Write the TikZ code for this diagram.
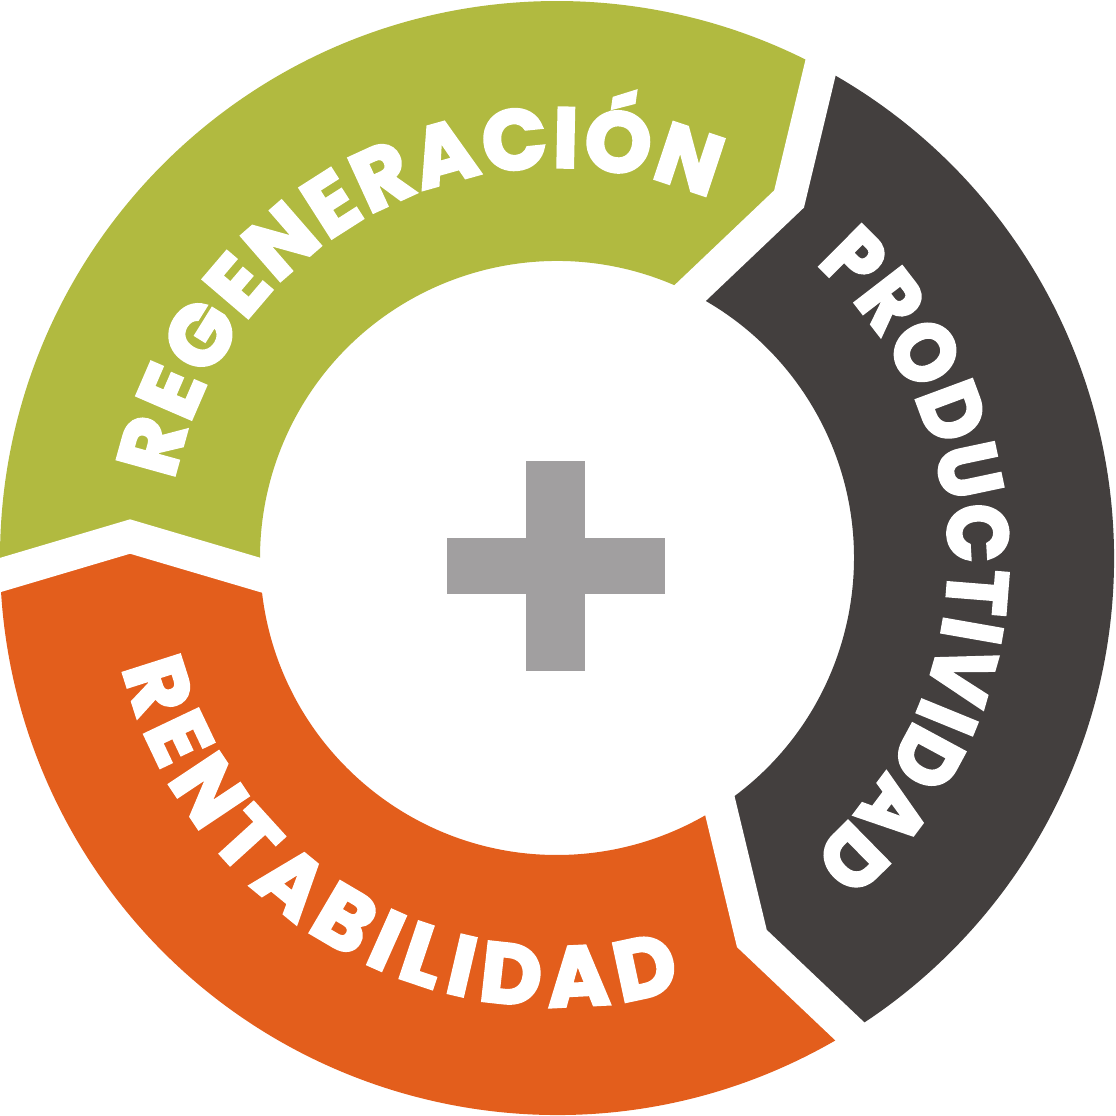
\documentclass[tikz,border=0pt]{standalone}
\usepackage{fontspec}
\newfontfamily\ringfont{Poppins}[BoldFeatures={FakeBold=4}]
\newfontfamily\ringfontn{Poppins}[BoldFeatures={FakeBold=4,FakeStretch=0.9}]
\usetikzlibrary{decorations.text,calc}
\definecolor{ringgreen}{HTML}{B1BA40}
\definecolor{ringdark}{HTML}{433F3E}
\definecolor{ringorange}{HTML}{E35E1C}
\definecolor{plusgray}{HTML}{A19FA0}
\tikzset{
  gap/.style={draw=white, line width=33pt, line join=miter, line cap=butt},
  ringtext/.style={decorate, decoration={text along path, text={|\fontsize{84}{84}\selectfont\ringfont\bfseries|#1}, text align={fit to path}, text color=white}},
  ringtextn/.style={decorate, decoration={text along path, text={|\fontsize{84}{84}\selectfont\ringfontn\bfseries|#1}, text align={fit to path}, text color=white}}
}
\begin{document}
\begin{tikzpicture}[x=1pt,y=1pt]
\useasboundingbox (-557,-558) rectangle (559,558);
% joints: outer point, apex, inner point
\coordinate (Lo) at (181.75:557);
\coordinate (La) at (177.12:427.5);
\coordinate (Li) at (183.29:297);
\coordinate (To) at (61.75:557);
\coordinate (Ta) at (57.12:427.5);
\coordinate (Ti) at (63.29:297);
\coordinate (Bo) at (-58.25:557);
\coordinate (Ba) at (-62.88:427.5);
\coordinate (Bi) at (-56.71:297);
% segments
\fill[ringgreen] (Lo) arc[start angle=181.75, end angle=61.75, radius=557] -- (Ta) -- (Ti)
  arc[start angle=63.29, end angle=183.29, radius=297] -- (La) -- cycle;
\fill[ringdark] (To) arc[start angle=61.75, end angle=-58.25, radius=557] -- (Ba) -- (Bi)
  arc[start angle=-56.71, end angle=63.29, radius=297] -- (Ta) -- cycle;
\fill[ringorange] (Bo) arc[start angle=-58.25, end angle=-178.25, radius=557] -- (La) -- (Li)
  arc[start angle=-176.71, end angle=-56.71, radius=297] -- (Ba) -- cycle;
% white gaps
\draw[gap] ($(La)!1.25!(Lo)$) -- (La) -- ($(La)!1.35!(Li)$);
\draw[gap] ($(Ta)!1.25!(To)$) -- (Ta) -- ($(Ta)!1.35!(Ti)$);
\draw[gap] ($(Ba)!1.25!(Bo)$) -- (Ba) -- ($(Ba)!1.35!(Bi)$);
% texts
\path[ringtext={REGENERACIÓN}] (168.5:391) arc[start angle=168.5, end angle=67, radius=391];
\path[ringtextn={PRODUCTIVIDAD}] (48.6:392) arc[start angle=48.6, end angle=-49.5, radius=392];
\path[ringtext={RENTABILIDAD}] (194.2:448) arc[start angle=194.2, end angle=286, radius=448];
% plus
\fill[plusgray] (-31,97) rectangle (28,-113);
\fill[plusgray] (-110,20) rectangle (108,-36);
\end{tikzpicture}
\end{document}
